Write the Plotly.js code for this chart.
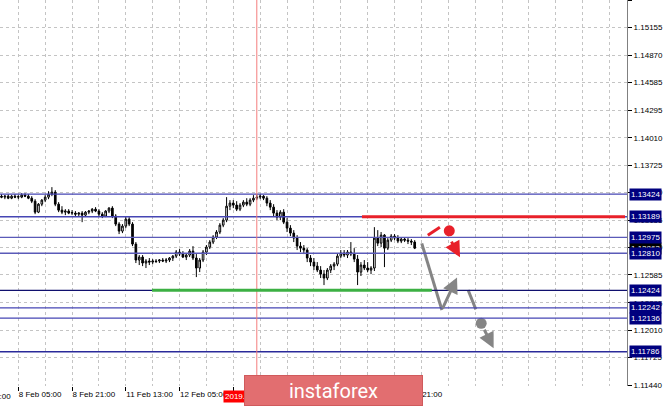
<!DOCTYPE html>
<html><head><meta charset="utf-8">
<script src="https://cdn.plot.ly/plotly-3.0.1.min.js"></script>
<style>html,body{margin:0;padding:0;background:#fff;overflow:hidden}#chart{width:665px;height:406px}</style>
</head><body><div id="chart"></div>
<script>
// EURUSD H1 candles, bar index 0 = 7 Feb 13:00 (first visible bar index 11)
const firstBar = 11;
const openP = [1.13403,1.13393,1.13403,1.13382,1.13403,1.13393,1.13393,1.13414,1.13403,1.13382,
1.13351,1.13237,1.13320,1.13362,1.13393,1.13424,1.13445,1.13320,1.13258,1.13237,
1.13248,1.13227,1.13227,1.13216,1.13227,1.13206,1.13237,1.13248,1.13268,1.13248,
1.13216,1.13196,1.13248,1.13279,1.13196,1.13113,1.13040,1.13092,1.13164,1.13113,
1.12905,1.12739,1.12770,1.12708,1.12729,1.12718,1.12729,1.12729,1.12739,1.12729,
1.12739,1.12760,1.12780,1.12822,1.12801,1.12770,1.12791,1.12832,1.12760,1.12656,
1.12739,1.12822,1.12874,1.12926,1.12978,1.13030,1.13102,1.13154,1.13299,1.13331,
1.13310,1.13268,1.13310,1.13341,1.13320,1.13362,1.13382,1.13393,1.13403,1.13382,
1.13331,1.13289,1.13227,1.13185,1.13237,1.13133,1.13071,1.13019,1.12967,1.12884,
1.12863,1.12843,1.12760,1.12718,1.12676,1.12635,1.12593,1.12552,1.12635,1.12676,
1.12697,1.12780,1.12812,1.12791,1.12822,1.12801,1.12749,1.12614,1.12687,1.12656,
1.12635,1.12656,1.12967,1.12915,1.12998,1.12863,1.12946,1.12988,1.12967,1.12936,
1.12957,1.12946,1.12936,1.12926];
const highP = [1.13424,1.13414,1.13424,1.13414,1.13424,1.13414,1.13434,1.13434,1.13424,1.13403,
1.13372,1.13331,1.13372,1.13414,1.13455,1.13497,1.13466,1.13341,1.13299,1.13268,
1.13268,1.13258,1.13248,1.13237,1.13248,1.13248,1.13258,1.13279,1.13289,1.13268,
1.13237,1.13258,1.13289,1.13299,1.13216,1.13133,1.13113,1.13196,1.13185,1.13133,
1.12926,1.12791,1.12791,1.12749,1.12760,1.12749,1.12749,1.12749,1.12760,1.12760,
1.12770,1.12791,1.12843,1.12853,1.12832,1.12801,1.12853,1.12884,1.12801,1.12760,
1.12843,1.12895,1.12946,1.12998,1.13050,1.13123,1.13175,1.13393,1.13362,1.13362,
1.13351,1.13331,1.13362,1.13382,1.13382,1.13414,1.13424,1.13424,1.13414,1.13403,
1.13362,1.13320,1.13258,1.13258,1.13268,1.13175,1.13102,1.13050,1.12998,1.12926,
1.12895,1.12863,1.12791,1.12760,1.12718,1.12676,1.12635,1.12656,1.12697,1.12718,
1.12812,1.12843,1.12843,1.12843,1.12926,1.12863,1.12791,1.12718,1.12739,1.12718,
1.12676,1.13081,1.13050,1.13030,1.13009,1.12967,1.13009,1.13009,1.12998,1.12978,
1.12978,1.12978,1.12957,1.12946];
const lowP = [1.13382,1.13372,1.13372,1.13372,1.13382,1.13372,1.13382,1.13393,1.13372,1.13331,
1.13216,1.13227,1.13299,1.13341,1.13372,1.13403,1.13299,1.13237,1.13216,1.13206,
1.13216,1.13206,1.13196,1.13196,1.13133,1.13196,1.13216,1.13227,1.13237,1.13196,
1.13175,1.13185,1.13227,1.13175,1.13092,1.13009,1.13019,1.13071,1.13092,1.12884,
1.12708,1.12687,1.12676,1.12656,1.12687,1.12697,1.12708,1.12708,1.12718,1.12708,
1.12718,1.12729,1.12760,1.12780,1.12760,1.12739,1.12770,1.12739,1.12562,1.12614,
1.12718,1.12791,1.12853,1.12905,1.12957,1.13009,1.13081,1.13133,1.13258,1.13279,
1.13248,1.13248,1.13289,1.13299,1.13299,1.13341,1.13362,1.13372,1.13362,1.13299,
1.13258,1.13196,1.13154,1.13154,1.13113,1.13030,1.12988,1.12926,1.12843,1.12822,
1.12801,1.12718,1.12676,1.12635,1.12614,1.12552,1.12479,1.12531,1.12604,1.12635,
1.12676,1.12760,1.12770,1.12760,1.12780,1.12718,1.12479,1.12573,1.12635,1.12614,
1.12593,1.12625,1.12884,1.12874,1.12666,1.12843,1.12926,1.12946,1.12915,1.12915,
1.12926,1.12905,1.12895,1.12853];
const closeP = [1.13393,1.13403,1.13382,1.13403,1.13393,1.13398,1.13414,1.13403,1.13382,1.13351,
1.13237,1.13320,1.13362,1.13393,1.13424,1.13445,1.13320,1.13258,1.13237,1.13248,
1.13227,1.13232,1.13216,1.13227,1.13206,1.13237,1.13248,1.13268,1.13248,1.13216,
1.13196,1.13248,1.13279,1.13196,1.13113,1.13040,1.13092,1.13164,1.13113,1.12905,
1.12739,1.12770,1.12708,1.12729,1.12718,1.12729,1.12724,1.12739,1.12729,1.12739,
1.12760,1.12780,1.12822,1.12801,1.12770,1.12791,1.12832,1.12760,1.12656,1.12739,
1.12822,1.12874,1.12926,1.12978,1.13030,1.13102,1.13154,1.13299,1.13331,1.13310,
1.13268,1.13310,1.13341,1.13320,1.13362,1.13382,1.13393,1.13403,1.13382,1.13331,
1.13289,1.13227,1.13185,1.13237,1.13133,1.13071,1.13019,1.12967,1.12884,1.12863,
1.12843,1.12760,1.12718,1.12676,1.12635,1.12593,1.12552,1.12635,1.12676,1.12697,
1.12780,1.12812,1.12791,1.12822,1.12801,1.12749,1.12614,1.12687,1.12656,1.12635,
1.12656,1.12967,1.12915,1.12998,1.12863,1.12946,1.12988,1.12967,1.12936,1.12957,
1.12946,1.12936,1.12926,1.12863];

const timeTickIdx = [0,16,32,48,64,80,96,112,128];
const timeTickText = ['7 Feb 13:00','8 Feb 05:00','8 Feb 21:00','11 Feb 13:00','12 Feb 05:00','12 Feb 21:00','13 Feb 13:00','14 Feb 05:00','14 Feb 21:00'];
const gridIdx = [0,8,16,24,32,40,48,56,64,72,80,88,96,104,112,120,128,136,144,152,160,168,176,184,192,200];
const priceTicks = [1.11440,1.11725,1.12010,1.12295,1.12585,1.12870,1.13155,1.13440,1.13725,1.14010,1.14295,1.14585,1.14870,1.15155,1.15440];
const levelPrices = [1.13424,1.13189,1.12975,1.12810,1.12424,1.12242,1.12136,1.11786];
const vlineIdx = 87;
const vlineLabel = '2019.02.13 04:00';
// analyst drawings (bar index, price)
const resistIdx = [118.3, 196.6], resistPrice = 1.13189;
const supportIdx = [55.8, 139.1], supportPrice = 1.12424;
const redDashIdx = [137.9, 141.5], redDashPrice = [1.12998, 1.13081];
const redDotIdx = [144.3], redDotPrice = [1.13043];
const redArrowIdx = [144.7, 147.5], redArrowPrice = [1.12946, 1.12767];
const grayLine1Idx = [136.1, 142.1], grayLine1Price = [1.12912, 1.12220];
const grayUpIdx = [142.1, 146.6], grayUpPrice = [1.12220, 1.12559];
const grayLine2Idx = [149.9, 152.2], grayLine2Price = [1.12428, 1.12227];
const grayDotIdx = [153.8], grayDotPrice = [1.12082];
const grayDownIdx = [154.5, 157.5], grayDownPrice = [1.12030, 1.11822];

const xRange = [10.55, 197.2];
const xIdx = openP.map((_, k) => firstBar + k);
const lastPrice = closeP[closeP.length - 1];

const RED = '#e8202a', GRAY = '#858585', GREEN = '#3cb043';
const levelColor = ['#4646b4','#4646b4','#5a5ab8','#5a5ab8','#10106e','#4646b4','#4646b4','#2a2a9a'];
const FONT = 'Liberation Sans, Arial, sans-serif';

const traces = [
  {type:'candlestick', x:xIdx, open:openP, high:highP, low:lowP, close:closeP,
   increasing:{line:{color:'#000',width:1}, fillcolor:'#fff'},
   decreasing:{line:{color:'#000',width:1}, fillcolor:'#000'},
   whiskerwidth:0, hoverinfo:'skip', showlegend:false},
  {type:'scatter', mode:'lines', x:redDashIdx, y:redDashPrice, line:{color:RED,width:3}, hoverinfo:'skip', showlegend:false},
  {type:'scatter', mode:'lines', x:grayLine1Idx, y:grayLine1Price, line:{color:GRAY,width:3}, hoverinfo:'skip', showlegend:false},
  {type:'scatter', mode:'lines', x:grayLine2Idx, y:grayLine2Price, line:{color:GRAY,width:3}, hoverinfo:'skip', showlegend:false},
  {type:'scatter', mode:'markers', x:redDotIdx, y:redDotPrice, marker:{color:RED,size:11}, hoverinfo:'skip', showlegend:false},
  {type:'scatter', mode:'markers', x:grayDotIdx, y:grayDotPrice, marker:{color:GRAY,size:11}, hoverinfo:'skip', showlegend:false}
];

const shapes = [];
levelPrices.forEach((p, k) => shapes.push({type:'line', xref:'paper', x0:0, x1:1, yref:'y', y0:p, y1:p,
  line:{color:levelColor[k], width:1.3}, layer:'above'}));
shapes.push({type:'line', xref:'x', x0:vlineIdx, x1:vlineIdx, yref:'paper', y0:0, y1:1, line:{color:'#f47c7c', width:1}, layer:'above'});
shapes.push({type:'line', xref:'x', x0:resistIdx[0], x1:resistIdx[1], yref:'y', y0:resistPrice, y1:resistPrice, line:{color:RED, width:3}, layer:'above'});
shapes.push({type:'line', xref:'x', x0:supportIdx[0], x1:supportIdx[1], yref:'y', y0:supportPrice, y1:supportPrice, line:{color:GREEN, width:3}, layer:'above'});

const annotations = [];
function arrow(ix, pr, color) {
  annotations.push({xref:'x', yref:'y', axref:'x', ayref:'y', x:ix[1], y:pr[1], ax:ix[0], ay:pr[0],
    text:'', showarrow:true, arrowhead:2, arrowsize:1.05, arrowwidth:3, arrowcolor:color, standoff:0, startstandoff:0});
}
arrow(redArrowIdx, redArrowPrice, RED);
arrow(grayUpIdx, grayUpPrice, GRAY);
arrow(grayDownIdx, grayDownPrice, GRAY);

// current price (black) then level labels
annotations.push({xref:'paper', x:1, xanchor:'left', xshift:2, yref:'y', y:lastPrice, yanchor:'middle',
  text:lastPrice.toFixed(5), showarrow:false, font:{family:FONT,size:8,color:'#fff'}, bgcolor:'#000', borderpad:1});
levelPrices.forEach((p) => annotations.push({xref:'paper', x:1, xanchor:'left', xshift:2, yref:'y', y:p, yanchor:'middle',
  text:p.toFixed(5), showarrow:false, font:{family:FONT,size:8,color:'#fff'}, bgcolor:'#00007f', borderpad:1}));

// first (clipped) time label, placed in paper units from its bar index
annotations.push({xref:'paper', x:(timeTickIdx[0] - xRange[0]) / (xRange[1] - xRange[0]), xanchor:'left', xshift:1,
  yref:'paper', y:-0.027, yanchor:'middle',
  text:timeTickText[0], showarrow:false, font:{family:FONT,size:8,color:'#000'}});
// vertical line date label
annotations.push({xref:'x', x:vlineIdx, xanchor:'center', yref:'paper', y:-0.027, yanchor:'middle',
  text:vlineLabel, showarrow:false, font:{family:FONT,size:8,color:'#fff'}, bgcolor:'#ff0000', borderpad:1});
// banner
annotations.push({xref:'paper', x:0.532, xanchor:'center', yref:'paper', y:-0.0117, yanchor:'middle',
  text:'instaforex', showarrow:false, width:177, height:29, borderpad:0, borderwidth:1,
  bordercolor:'#d05a5c', bgcolor:'#e26e70', font:{family:'Roboto, Open Sans, sans-serif', size:20, color:'#fff'}});

const layout = {
  width:665, height:406, margin:{l:0, r:38, t:0, b:20},
  paper_bgcolor:'#fff', plot_bgcolor:'#fff', showlegend:false, dragmode:false,
  font:{family:FONT, size:8, color:'#000'},
  xaxis:{range:xRange, tickmode:'array', tickvals:timeTickIdx, ticktext:timeTickText,
    tickangle:0, ticklabelposition:'outside right', ticks:'outside', ticklen:4, tickcolor:'#000',
    tickfont:{family:FONT,size:8,color:'#000'},
    showgrid:true, gridcolor:'#c4c4c4', griddash:'3px,3px', gridwidth:1,
    minor:{tickmode:'array', tickvals:gridIdx, showgrid:true, gridcolor:'#c4c4c4', griddash:'3px,3px', ticks:''},
    showline:false, zeroline:false, rangeslider:{visible:false}, fixedrange:true},
  yaxis:{side:'right', range:[1.11430, 1.15442], tickmode:'array', tickvals:priceTicks,
    ticktext:priceTicks.map(v => v.toFixed(5)), ticks:'outside', ticklen:4, tickcolor:'#000',
    tickfont:{family:FONT,size:8,color:'#000'},
    showgrid:true, gridcolor:'#c4c4c4', griddash:'3px,3px', gridwidth:1,
    showline:true, linecolor:'#808080', linewidth:1, zeroline:false, fixedrange:true},
  shapes:shapes, annotations:annotations
};
Plotly.newPlot('chart', traces, layout, {staticPlot:true, displayModeBar:false});
</script></body></html>
